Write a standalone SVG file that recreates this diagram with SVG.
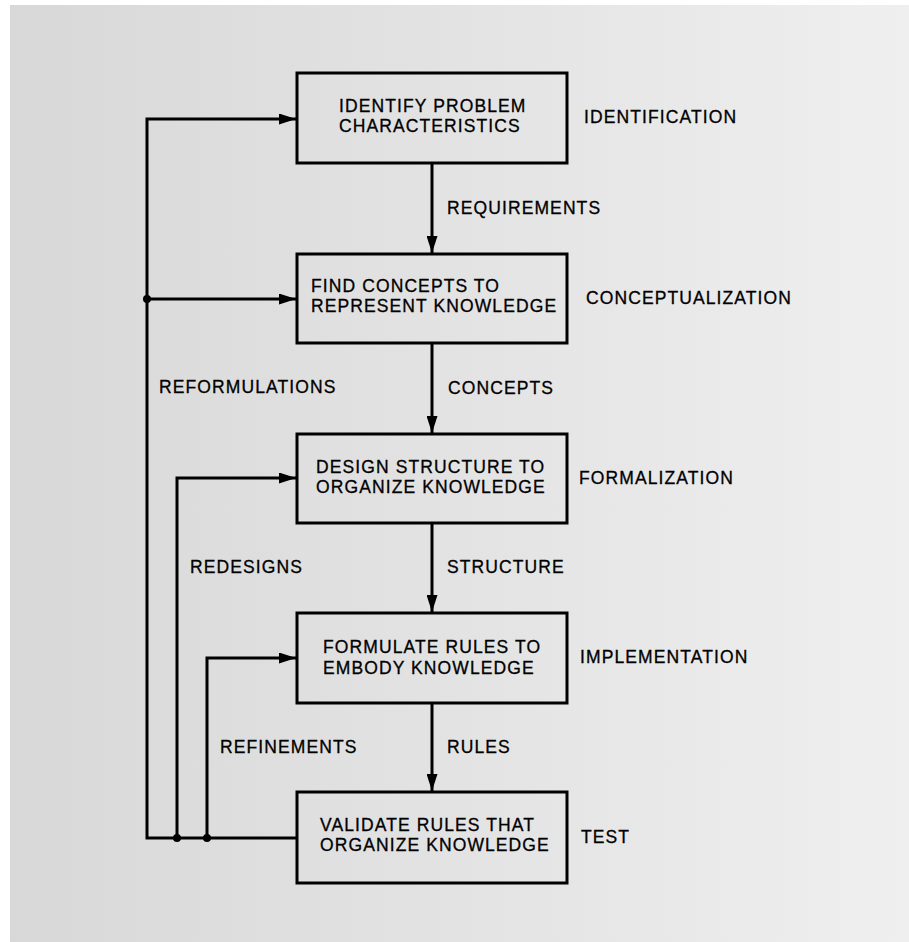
<svg xmlns="http://www.w3.org/2000/svg" width="909" height="942" viewBox="0 0 909 942">
  <defs>
    <linearGradient id="bg" x1="0" y1="0" x2="1" y2="0">
      <stop offset="0" stop-color="#d8d8d8"/>
      <stop offset="0.5" stop-color="#e3e3e3"/>
      <stop offset="1" stop-color="#efefef"/>
    </linearGradient>
    <marker id="arr" viewBox="0 0 17 11" refX="17" refY="5.5" markerWidth="17" markerHeight="11" markerUnits="userSpaceOnUse" orient="auto">
      <path d="M0,0 L17,5.5 L0,11 Z" fill="#000"/>
    </marker>
    <style>
      .box { fill: none; stroke: #000; stroke-width: 3; }
      .t { font-family: "Liberation Sans", Arial, Helvetica, sans-serif; font-size: 17.5px; letter-spacing: 1.1px; fill: #000; stroke: #000; stroke-width: 0.3px; }
      .c { fill: none; stroke: #000; stroke-width: 3; }
      .a { marker-end: url(#arr); }
      .dot { fill: #000; }
    </style>
  </defs>
  <rect x="0" y="0" width="909" height="942" fill="#ffffff"/>
  <rect x="10" y="5" width="899" height="937" fill="url(#bg)"/>

  <g id="connectors">
    <line class="c a" x1="432" y1="163" x2="432" y2="253"/>
    <line class="c a" x1="432" y1="343" x2="432" y2="433"/>
    <line class="c a" x1="432" y1="523" x2="432" y2="612"/>
    <line class="c a" x1="432" y1="703" x2="432" y2="791"/>
    <polyline class="c a" points="297,838 147,838 147,119 296,119"/>
    <line class="c a" x1="147" y1="299" x2="296" y2="299"/>
    <polyline class="c a" points="177,838 177,478 296,478"/>
    <polyline class="c a" points="207,838 207,658 296,658"/>
    <circle class="dot" cx="147" cy="299" r="4"/>
    <circle class="dot" cx="177" cy="838" r="4"/>
    <circle class="dot" cx="207" cy="838" r="4"/>
    <text class="t" x="447" y="214">REQUIREMENTS</text>
    <text class="t" x="448" y="394">CONCEPTS</text>
    <text class="t" x="447" y="573">STRUCTURE</text>
    <text class="t" x="447" y="753">RULES</text>
    <text class="t" x="159" y="393">REFORMULATIONS</text>
    <text class="t" x="190" y="573">REDESIGNS</text>
    <text class="t" x="220" y="753">REFINEMENTS</text>
  </g>

  <g id="identify">
    <rect class="box" x="297" y="73" width="270" height="90"/>
    <text class="t" x="339" y="112">IDENTIFY PROBLEM</text>
    <text class="t" x="339" y="132">CHARACTERISTICS</text>
    <text class="t" x="584" y="123">IDENTIFICATION</text>
  </g>
  <g id="find">
    <rect class="box" x="297" y="254" width="270" height="89"/>
    <text class="t" x="311" y="292">FIND CONCEPTS TO</text>
    <text class="t" x="311" y="312">REPRESENT KNOWLEDGE</text>
    <text class="t" x="586" y="304">CONCEPTUALIZATION</text>
  </g>
  <g id="design">
    <rect class="box" x="297" y="434" width="270" height="89"/>
    <text class="t" x="316" y="473">DESIGN STRUCTURE TO</text>
    <text class="t" x="316" y="493">ORGANIZE KNOWLEDGE</text>
    <text class="t" x="579" y="484">FORMALIZATION</text>
  </g>
  <g id="formulate">
    <rect class="box" x="297" y="613" width="270" height="90"/>
    <text class="t" x="323" y="653">FORMULATE RULES TO</text>
    <text class="t" x="323" y="674">EMBODY KNOWLEDGE</text>
    <text class="t" x="580" y="663">IMPLEMENTATION</text>
  </g>
  <g id="validate">
    <rect class="box" x="297" y="792" width="270" height="91"/>
    <text class="t" x="320" y="831">VALIDATE RULES THAT</text>
    <text class="t" x="320" y="851">ORGANIZE KNOWLEDGE</text>
    <text class="t" x="581" y="843">TEST</text>
  </g>
</svg>
